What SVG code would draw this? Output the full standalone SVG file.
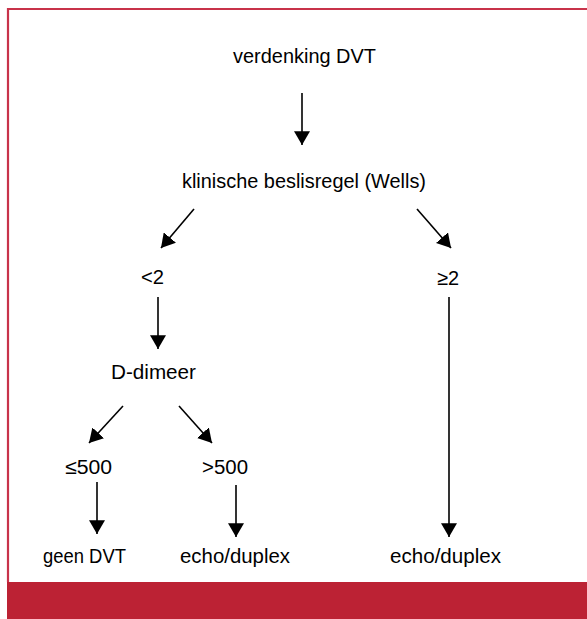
<svg xmlns="http://www.w3.org/2000/svg" width="587" height="619" viewBox="0 0 587 619">
<style>
text{font-family:"Liberation Sans",Arial,sans-serif;font-size:20.5px;fill:#000;text-anchor:middle}
.c{stroke:#000;stroke-width:1.6;fill:none;marker-end:url(#ah)}
</style>
<defs>
<marker id="ah" markerUnits="userSpaceOnUse" markerWidth="16" markerHeight="16" viewBox="0 0 14 14" refX="12" refY="7" orient="auto">
<path d="M0,0 L12,7 L0,14 Z" fill="#000"/>
</marker>
</defs>
<rect x="0" y="0" width="587" height="619" fill="#fff"/>
<path d="M8,582 V9 H590" fill="none" stroke="#c8334a" stroke-width="2.2"/>
<rect x="7" y="582" width="582" height="37" fill="#bc2234"/>
<g id="connectors">
<line class="c" x1="302" y1="93" x2="302" y2="145"/>
<line class="c" x1="194" y1="209" x2="161" y2="248"/>
<line class="c" x1="417" y1="209" x2="451" y2="248"/>
<line class="c" x1="158" y1="297" x2="158" y2="349"/>
<line class="c" x1="449" y1="297" x2="449" y2="537"/>
<line class="c" x1="123" y1="406" x2="89" y2="443"/>
<line class="c" x1="179" y1="406" x2="212" y2="443"/>
<line class="c" x1="97" y1="482" x2="97" y2="534"/>
<line class="c" x1="236" y1="485" x2="236" y2="537"/>
</g>
<g id="n-verdenking"><text x="304.5" y="63" textLength="143" lengthAdjust="spacingAndGlyphs">verdenking DVT</text></g>
<g id="n-wells"><text x="304" y="188" textLength="244" lengthAdjust="spacingAndGlyphs">klinische beslisregel (Wells)</text></g>
<g id="n-lt2"><text x="152.5" y="284" textLength="23" lengthAdjust="spacingAndGlyphs">&lt;2</text></g>
<g id="n-ge2"><text x="448" y="285" textLength="22" lengthAdjust="spacingAndGlyphs">≥2</text></g>
<g id="n-ddimeer"><text x="153.5" y="379" textLength="85" lengthAdjust="spacingAndGlyphs">D-dimeer</text></g>
<g id="n-le500"><text x="88.5" y="474" textLength="47" lengthAdjust="spacingAndGlyphs">≤500</text></g>
<g id="n-gt500"><text x="225" y="474" textLength="46" lengthAdjust="spacingAndGlyphs">&gt;500</text></g>
<g id="n-geen"><text x="84.5" y="563" textLength="83" lengthAdjust="spacingAndGlyphs">geen DVT</text></g>
<g id="n-echo1"><text x="235" y="563" textLength="110" lengthAdjust="spacingAndGlyphs">echo/duplex</text></g>
<g id="n-echo2"><text x="445.5" y="563" textLength="111" lengthAdjust="spacingAndGlyphs">echo/duplex</text></g>
</svg>
